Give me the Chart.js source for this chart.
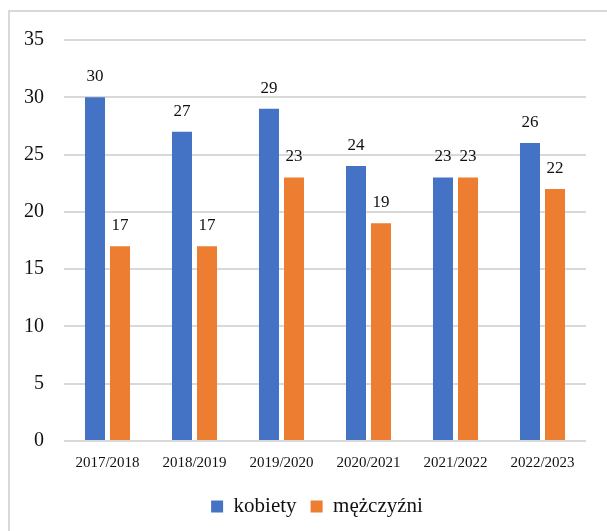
<!DOCTYPE html>
<html>
<head>
<meta charset="utf-8">
<script src="https://cdn.jsdelivr.net/npm/chart.js@4"></script>
<style>
  html, body { margin: 0; padding: 0; background: #fff; }
  #wrap { position: relative; width: 607px; height: 531px; overflow: hidden; }
  #frame { position: absolute; left: 8px; top: 10px; width: 640px; height: 560px; border: 2px solid #d9d9d9; box-sizing: border-box; }
  canvas { position: absolute; left: 0; top: 0; }
</style>
</head>
<body>
<div id="wrap">
  <div id="frame"></div>
  <canvas id="c" width="607" height="531"></canvas>
</div>
<script>
// School years and counts
const years = ['2017/2018', '2018/2019', '2019/2020', '2020/2021', '2021/2022', '2022/2023'];
const kobiety = [30, 27, 29, 24, 23, 26];
const mezczyzni = [17, 17, 23, 19, 23, 22];
const yTicks = [0, 5, 10, 15, 20, 25, 30, 35];

const FONT = '"Liberation Serif", "Times New Roman", serif';

// draw value labels above bars
const valueLabels = {
  id: 'valueLabels',
  afterDatasetsDraw(chart) {
    const ctx = chart.ctx;
    ctx.save();
    ctx.font = '17px ' + FONT;
    ctx.fillStyle = '#111';
    ctx.textAlign = 'center';
    ctx.textBaseline = 'bottom';
    chart.data.datasets.forEach((ds, i) => {
      chart.getDatasetMeta(i).data.forEach((bar, j) => {
        ctx.fillText(ds.data[j], bar.x, bar.y - 12);
      });
    });
    ctx.restore();
  }
};

// legend sits a bit right of canvas centre in the original
const shiftLegend = {
  id: 'shiftLegend',
  afterLayout(chart) {
    if (chart.legend) { chart.legend.left += 24; chart.legend.right += 24; }
  }
};

new Chart(document.getElementById('c'), {
  type: 'bar',
  data: {
    labels: years,
    datasets: [
      { label: 'kobiety', data: kobiety, backgroundColor: '#4472C4', categoryPercentage: 0.575, barPercentage: 0.8 },
      { label: 'mężczyźni', data: mezczyzni, backgroundColor: '#ED7D31', categoryPercentage: 0.575, barPercentage: 0.8 },
    ],
  },
  options: {
    responsive: false,
    animation: false,
    layout: { padding: { left: 0, right: 21, top: 40, bottom: 4 } },
    plugins: {
      tooltip: { enabled: false },
      legend: {
        position: 'bottom',
        labels: { font: { family: FONT, size: 21 }, color: '#111', boxWidth: 12, boxHeight: 12, padding: 14 },
      },
    },
    scales: {
      x: {
        afterFit: s => { s.height += 5; },
        grid: { display: false },
        border: { display: false },
        ticks: { font: { family: FONT, size: 15 }, color: '#111', maxRotation: 0, padding: 5 },
      },
      y: {
        min: 0, max: 35,
        afterFit: s => { s.width = 64; },
        afterBuildTicks: s => { s.ticks = yTicks.map(v => ({ value: v })); },
        grid: { color: '#d9d9d9', lineWidth: 2, drawTicks: false },
        border: { display: false },
        ticks: { font: { family: FONT, size: 20 }, color: '#111', padding: 20 },
      },
    },
  },
  plugins: [valueLabels, shiftLegend],
});
</script>
</body>
</html>
